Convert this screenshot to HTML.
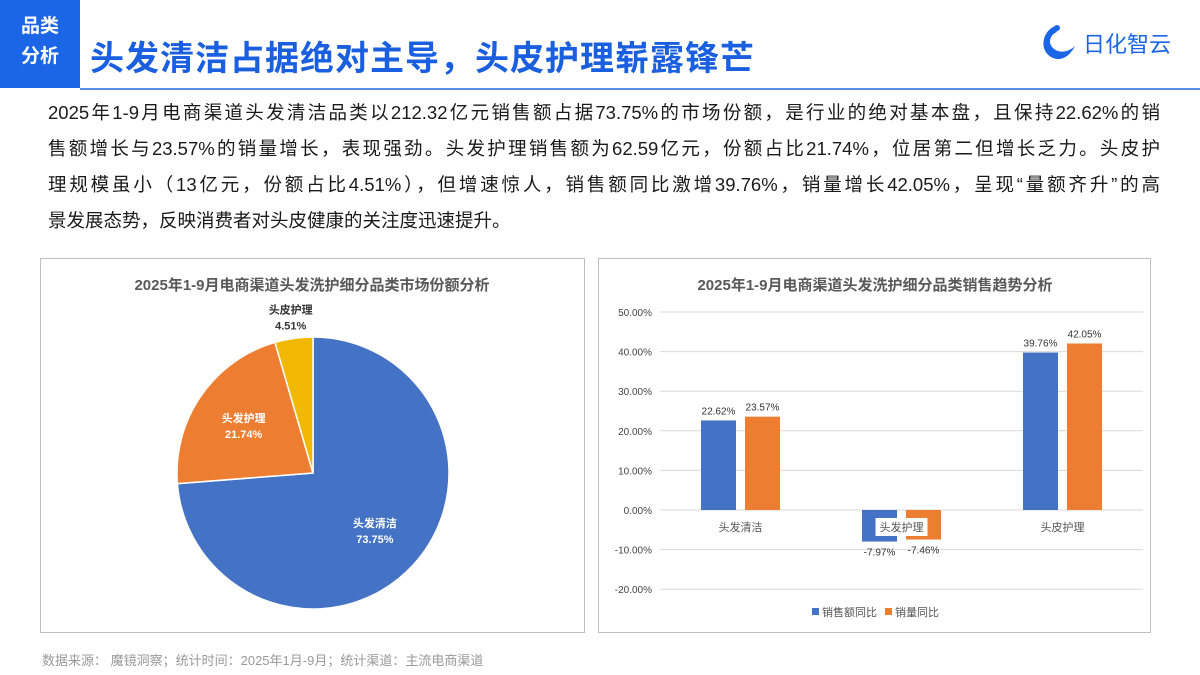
<!DOCTYPE html>
<html><head><meta charset="utf-8">
<style>
body{margin:0;width:1200px;height:675px;background:#fff;position:relative;overflow:hidden;font-family:"Liberation Sans","Noto Sans CJK SC",sans-serif;}
.abs{position:absolute;}
#tag{left:0;top:0;width:80px;height:88px;background:#1a66e6;color:#fff;font-weight:bold;font-size:19px;line-height:30px;text-align:center;padding-top:12px;box-sizing:border-box;}
#title{left:90px;top:31px;font-size:34px;font-weight:bold;color:#1a5fe0;letter-spacing:1px;white-space:nowrap;}
#hline{left:80px;top:88px;width:1120px;height:2px;background:#5b8fe8;}
#body{left:48px;top:95px;width:1112px;font-size:18.5px;line-height:36px;color:#1a1a1a;}
#body div{white-space:nowrap;text-align:justify;text-align-last:justify;}
#body div.last{text-align-last:left;}
.panel{border:1px solid #bfbfbf;box-sizing:border-box;}
#src{left:42px;top:650px;font-size:13px;color:#999;}
</style></head><body>
<div id="tag" class="abs">品类<br>分析</div>
<div id="title" class="abs">头发清洁占据绝对主导，头皮护理崭露锋芒</div>
<div class="abs" style="left:1035px;top:22px;">
<svg width="135" height="42"><path d="M20 4 C6 10 4 30 18 36 C28 40 36 32 40 24 C34 30 24 32 18 26 C12 20 16 12 22 10 Z" fill="#1a66e6"/><circle cx="22" cy="6" r="3" fill="#1a66e6"/><text x="48" y="30" font-size="22" fill="#1a66e6" font-family="Liberation Sans,Noto Sans CJK SC,sans-serif">日化智云</text></svg></div>
<div id="hline" class="abs"></div>
<div id="body" class="abs"><div>2025年1-9月电商渠道头发清洁品类以212.32亿元销售额占据73.75%的市场份额，是行业的绝对基本盘，且保持22.62%的销</div><div>售额增长与23.57%的销量增长，表现强劲。头发护理销售额为62.59亿元，份额占比21.74%，位居第二但增长乏力。头皮护</div><div>理规模虽小（13亿元，份额占比4.51%），但增速惊人，销售额同比激增39.76%，销量增长42.05%，呈现“量额齐升”的高</div><div class="last">景发展态势，反映消费者对头皮健康的关注度迅速提升。</div></div>

<div class="abs panel" style="left:40px;top:258px;width:545px;height:375px;"></div>
<div class="abs panel" style="left:598px;top:258px;width:553px;height:375px;"></div>

<svg class="abs" style="left:0;top:0" width="1200" height="675" id="charts">
<text x="312" y="290" text-anchor="middle" font-size="15" font-weight="bold" fill="#595959">2025年1-9月电商渠道头发洗护细分品类市场份额分析</text>
<text x="875" y="290" text-anchor="middle" font-size="15" font-weight="bold" fill="#595959">2025年1-9月电商渠道头发洗护细分品类销售趋势分析</text>
<g id="pie"></g><g id="bars"></g>
</svg>
<div id="src" class="abs">数据来源： 魔镜洞察；统计时间：2025年1月-9月；统计渠道：主流电商渠道</div>

<script>
const pieLabels=["头发清洁","头发护理","头皮护理"];
const pieValues=[73.75,21.74,4.51];
const pieColors=["#4472c4","#ed7d31","#f0b800"];
const barCats=["头发清洁","头发护理","头皮护理"];
const salesYoY=[22.62,-7.97,39.76];
const volYoY=[23.57,-7.46,42.05];
const yTicks=[50,40,30,20,10,0,-10,-20];
const NS="http://www.w3.org/2000/svg";
function mk(t,a,p){const e=document.createElementNS(NS,t);for(const k in a)e.setAttribute(k,a[k]);p.appendChild(e);return e;}
const pg=document.getElementById('pie');
const cx=313,cy=473,r=136;
const tot=pieValues.reduce((a,b)=>a+b,0);
let ang=0;
pieValues.forEach((v,i)=>{
 const a0=ang,a1=ang+v/tot*2*Math.PI;ang=a1;
 const x0=cx+r*Math.sin(a0),y0=cy-r*Math.cos(a0),x1=cx+r*Math.sin(a1),y1=cy-r*Math.cos(a1);
 const p=mk('path',{d:`M${cx},${cy}L${x0},${y0}A${r},${r} 0 ${a1-a0>Math.PI?1:0} 1 ${x1},${y1}Z`,fill:pieColors[i],stroke:"#fff","stroke-width":1.5},pg);
 
 
 const m=(a0+a1)/2;
 let lr=i==2?r+22:r*0.62;
 const lx=cx+lr*Math.sin(m),ly=cy-lr*Math.cos(m);
 const col=i==2?"#333":"#fff";
 const t1=mk('text',{x:lx,y:ly-3,"text-anchor":"middle","font-size":11,"font-weight":"bold",fill:col},pg);t1.textContent=pieLabels[i];
 
 
 const t2=mk('text',{x:lx,y:ly+13,"text-anchor":"middle","font-size":11,"font-weight":"bold",fill:col},pg);t2.textContent=pieValues[i].toFixed(2)+"%";
 
 
});
const bg=document.getElementById('bars');
const x0=660,x1=1143,yZero=510,pxPer=3.96;
const Y=v=>yZero-v*pxPer;
const cw=(x1-x0)/barCats.length;
yTicks.forEach(t=>{
 const l=mk('line',{x1:x0,x2:x1,y1:Y(t),y2:Y(t),stroke:"#d9d9d9","stroke-width":1},bg);
 
 
 const tx=mk('text',{x:652,y:Y(t)+4,"text-anchor":"end","font-size":10,fill:"#444"},bg);tx.textContent=t.toFixed(2)+"%";
 
 
});
const bw=35;
[salesYoY,volYoY].forEach((s,si)=>{
 s.forEach((v,i)=>{
  const c=x0+cw*(i+0.5)+(si?22:-22);
  const y=Math.min(Y(v),yZero),h=Math.abs(Y(v)-yZero);
  const b=mk('rect',{x:c-bw/2,y:y,width:bw,height:h,fill:si?"#ed7d31":"#4472c4"},bg);
  
  
  const ty=v>=0?Y(v)-6:Y(v)+14;
  const t=mk('text',{x:c,y:ty,"text-anchor":"middle","font-size":10,fill:"#333"},bg);t.textContent=v.toFixed(2)+"%";
  
  
 });
});
barCats.forEach((c,i)=>{
 const cxx=x0+cw*(i+0.5);
 if(i==1){const bgR=mk('rect',{x:cxx-26,y:518,width:52,height:18,fill:"#fff"},bg);}
 const t=mk('text',{x:cxx,y:531,"text-anchor":"middle","font-size":11,fill:"#555"},bg);t.textContent=c;
 
 
});
[["销售额同比","#4472c4",812],["销量同比","#ed7d31",885]].forEach((l,i)=>{
 const r2=mk('rect',{x:l[2],y:608,width:7,height:7,fill:l[1]},bg);
 
 
 const t=mk('text',{x:l[2]+10,y:616,"font-size":11,fill:"#555"},bg);t.textContent=l[0];
 
 
});
</script>
</body></html>
